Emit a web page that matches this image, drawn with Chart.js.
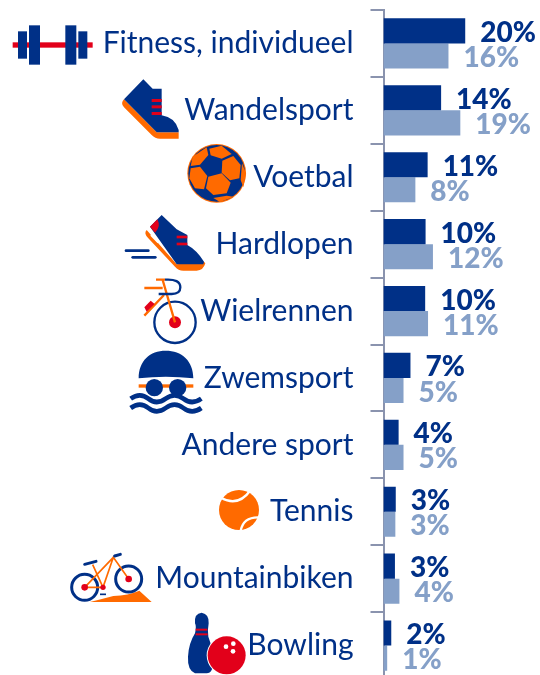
<!DOCTYPE html>
<html><head><meta charset="utf-8">
<style>html,body{margin:0;padding:0;background:#fff;overflow:hidden;width:540px;height:675px}canvas{display:block}</style>
<script src="https://cdn.jsdelivr.net/npm/chart.js@4"></script>
</head><body><canvas id="c" width="540" height="680"></canvas>
<script>
const categories=["Fitness, individueel","Wandelsport","Voetbal","Hardlopen","Wielrennen","Zwemsport","Andere sport","Tennis","Mountainbiken","Bowling"];
const seriesA=[20,14.1,10.8,10.3,10.2,6.6,3.7,3.0,2.8,1.9];
const seriesB=[15.9,18.8,7.8,12.1,10.9,4.9,4.9,2.9,3.9,0.9];
const labelsA=["20%","14%","11%","10%","10%","7%","4%","3%","3%","2%"];
const labelsB=["16%","19%","8%","12%","11%","5%","5%","3%","4%","1%"];
const BLUE="#003087",LIGHT="#85a0c8",ORANGE="#ff6a00",RED="#e2001a",AXIS="#8a93ae",FONT="Lato, Carlito, sans-serif";

function fillP(x,col,d){x.fillStyle=col;x.fill(new Path2D(d));}
function strokeP(x,col,w,d,cap){x.strokeStyle=col;x.lineWidth=w;x.lineCap=cap||"butt";x.stroke(new Path2D(d));}
function circ(x,col,cx,cy,r){x.fillStyle=col;x.beginPath();x.arc(cx,cy,r,0,7);x.fill();}
function ring(x,col,w,cx,cy,r){x.strokeStyle=col;x.lineWidth=w;x.beginPath();x.arc(cx,cy,r,0,7);x.stroke();}
function rect(x,col,a,b,w,h){x.fillStyle=col;x.fillRect(a,b,w,h);}

const icons=[
 {y0:0,draw(x){rect(x,RED,38,127,240,16);
   [[54,94,27,82],[87,76,33,118],[196,76,33,118],[235,94,27,82]].forEach(r=>rect(x,BLUE,...r));}},
 {y0:0,draw(x){fillP(x,ORANGE,"M372 298L470 397L536 397L536 416L480 416Q465 416 455 405L372 322Q360 310 372 298Z");
   fillP(x,BLUE,"M430 238L458 266L485 266L485 346Q525 352 536 390L536 397L470 397L372 298Z");
   [297,316,336].forEach(v=>rect(x,RED,455,v,30,9));}},
 {y0:0,draw(x){circ(x,ORANGE,650,520,88);circ(x,BLUE,650,520,85);
   ["M628 446L665 437L695 462L665 476L632 466Z","M667 482L700 468L722 495L718 535L690 541L665 518Z",
    "M572 505L600 500L622 528L612 568L585 565L568 535Z","M625 530L665 520L692 548L680 580L640 585L618 565Z",
    "M578 470L620 442L625 465L600 494L572 498Z","M640 594L680 587L702 590L660 606Z","M726 490L738 520L730 562L722 540Z"
   ].forEach(d=>fillP(x,ORANGE,d));}},
 {y0:200,draw(x){fillP(x,ORANGE,"M440 90L530 193L612 185L616 190Q610 212 590 212L550 212Q535 212 525 200L445 115Q430 100 440 90Z");
   fillP(x,BLUE,"M485 45L530 88L562 105L562 135Q590 150 612 185L610 193L530 193L450 80Z");
   fillP(x,RED,"M450 80L472 58Q484 80 465 98Z");
   strokeP(x,"#fff",7,"M455 106L474 126","round");
   rect(x,RED,530,107,32,8);rect(x,RED,530,128,32,8);
   strokeP(x,BLUE,8,"M378 152L445 152","round");strokeP(x,BLUE,8,"M398 172L466 172","round");}},
 {y0:200,draw(x){ring(x,BLUE,7,525,367,62);circ(x,RED,525,367,18);
   strokeP(x,ORANGE,7,"M525 367L488 240M433 264L488 264M468 239L495 239M492 285L433 347");
   strokeP(x,BLUE,7,"M495 239Q541 236 541 262Q541 282 515 282L476 282");
   fillP(x,RED,"M433 322L452 302L464 312L440 335Z");}},
 {y0:200,draw(x){fillP(x,BLUE,"M416 535C416 482 450 452 497 452C545 452 580 482 580 535Q497 525 416 535Z");
   rect(x,ORANGE,416,553,164,10);circ(x,BLUE,463,563,26);circ(x,BLUE,533,563,26);
   ["M392 596Q420 576 445 596T497 596T550 596T604 596","M392 624Q420 604 445 624T497 624T550 624T604 624"].forEach(d=>strokeP(x,BLUE,14,d));}},
 null,
 {y0:470,draw(x){circ(x,ORANGE,717,120,60);
   strokeP(x,"#fff",7,"M664 84Q715 112 752 60");strokeP(x,"#fff",7,"M722 182Q730 140 778 142");}},
 {y0:470,draw(x){fillP(x,ORANGE,"M270 396Q310 386 340 378Q385 376 418 362L455 396Z");
   ring(x,BLUE,9,254,352,39);ring(x,BLUE,9,386,327,39);
   strokeP(x,ORANGE,5,"M254 352L309 352L340 262L386 327M254 352L340 262M309 352L278 284");
   circ(x,RED,254,352,10);circ(x,RED,386,327,10);circ(x,RED,309,352,8);
   strokeP(x,BLUE,9,"M254 283L288 274","round");strokeP(x,BLUE,9,"M344 258L361 253","round");strokeP(x,BLUE,5,"M300 373L318 373");}},
 {y0:470,draw(x){fillP(x,BLUE,"M605 428Q628 432 626 460Q622 480 625 500Q640 540 640 570Q640 610 620 610L585 610Q562 600 564 560Q566 520 585 490Q590 470 585 460Q582 430 605 428Z");
   rect(x,RED,587,476,35,6);rect(x,RED,587,490,36,6);
   circ(x,"#fff",680,556,60);circ(x,RED,680,556,57);
   circ(x,"#fff",678,530,7);circ(x,"#fff",700,521,7);circ(x,"#fff",699,544,7);}}
];

const iconPlugin={id:"icons",afterDraw(ch){const x=ch.ctx;
  icons.forEach(ic=>{if(!ic)return;x.save();x.scale(1/3,1/3);x.translate(0,ic.y0*3);ic.draw(x);x.restore();});}};

const labelPlugin={id:"valueLabels",afterDatasetsDraw(ch){const x=ch.ctx;x.save();
  x.font="900 28px "+FONT;x.textBaseline="middle";x.textAlign="left";
  [[0,labelsA,BLUE],[1,labelsB,LIGHT]].forEach(([ds,txt,col])=>{
    x.fillStyle=col;
    ch.getDatasetMeta(ds).data.forEach((b,i)=>x.fillText(txt[i],b.x+15,b.y+2));
  });x.restore();}};

new Chart(document.getElementById("c"),{
 type:"bar",
 data:{labels:categories,datasets:[
  {label:"A",data:seriesA,backgroundColor:BLUE,categoryPercentage:.75,barPercentage:1},
  {label:"B",data:seriesB,backgroundColor:LIGHT,categoryPercentage:.75,barPercentage:1}]},
 plugins:[labelPlugin,iconPlugin],
 options:{indexAxis:"y",responsive:false,animation:false,
  layout:{autoPadding:false,padding:{top:10,bottom:1,left:0,right:0}},
  plugins:{legend:{display:false},tooltip:{enabled:false}},
  scales:{
   x:{display:false,min:0,max:38.3},
   y:{afterFit(s){s.width=383.5;s.paddingTop=0;s.paddingBottom=0;},
      grid:{drawOnChartArea:false,offset:true,color:AXIS,lineWidth:2,tickLength:13},
      border:{color:AXIS,width:2},
      ticks:{color:BLUE,font:{family:FONT,size:30},padding:17,autoSkip:false}}
  }}
});
</script></body></html>
